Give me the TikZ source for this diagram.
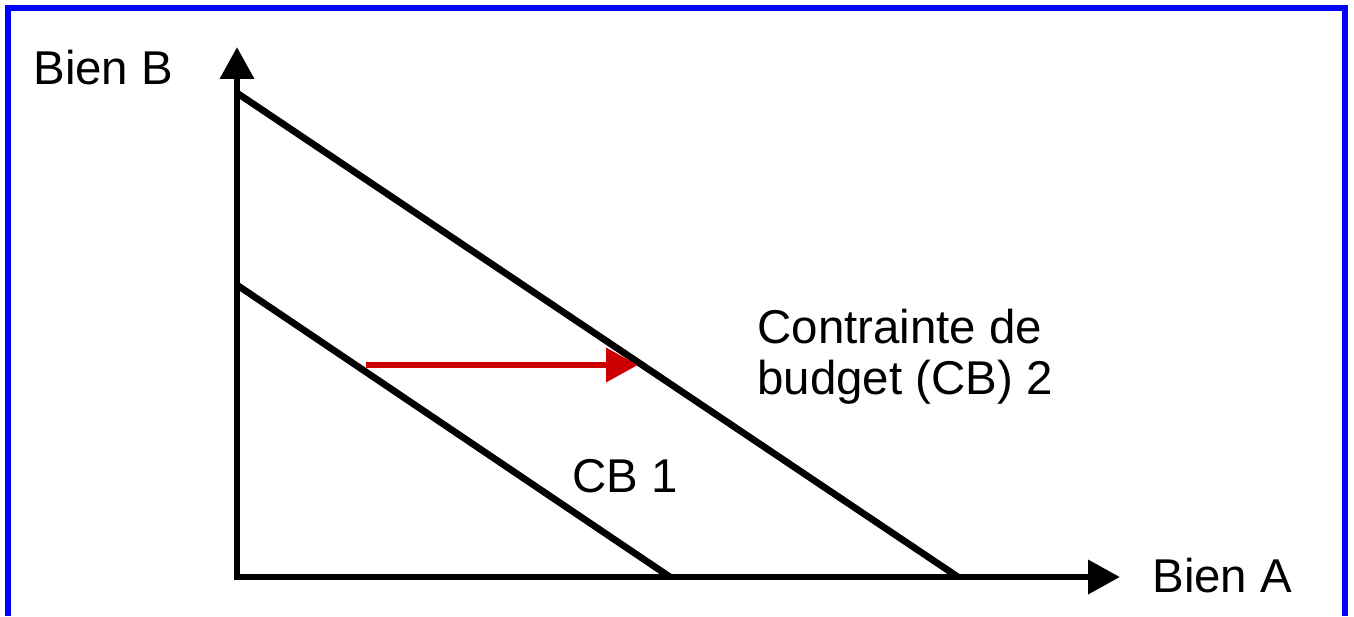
\documentclass[tikz,border=0pt]{standalone}
\usepackage{fontspec}
\setmainfont{Liberation Sans}
\usetikzlibrary{arrows.meta}

\begin{document}
\begin{tikzpicture}[x=0.02cm,y=-0.02cm,line width=0.135cm,>={Triangle[length=0.64cm,width=0.66cm]},
  lbl/.style={anchor=base west,inner sep=0pt,font=\fontsize{27}{29}\selectfont,align=left}]
\useasboundingbox (0,0) rectangle (1354,616);
% frame
\draw[blue] (8,616) -- (8,8) -- (1345,8) -- (1345,616);
% axes
\coordinate (O) at (237,577);
\coordinate (ytip) at (237,47);
\coordinate (xtip) at (1120,577);
\draw[<->] (ytip) -- (O) -- (xtip);
\node[lbl] (yl) at (30,84) {Bien B};
\node[lbl] (xl) at (1149,592) {Bien A};
% budget lines
\coordinate (b2) at (237,93);
\coordinate (a2) at (958,577);
\coordinate (b1) at (237,285);
\coordinate (a1) at (670,577);
\draw (b2) -- (a2);
\draw (b1) -- (a1);
\node[lbl] (cb2) at (754,394) {Contrainte de\\budget (CB) 2};
\node[lbl] (cb1) at (569,492) {CB 1};
% shift
\coordinate (s) at (366,365);
\coordinate (t) at (638,365);
\draw[->,red!80!black] (s) -- (t);
\end{tikzpicture}
\end{document}
